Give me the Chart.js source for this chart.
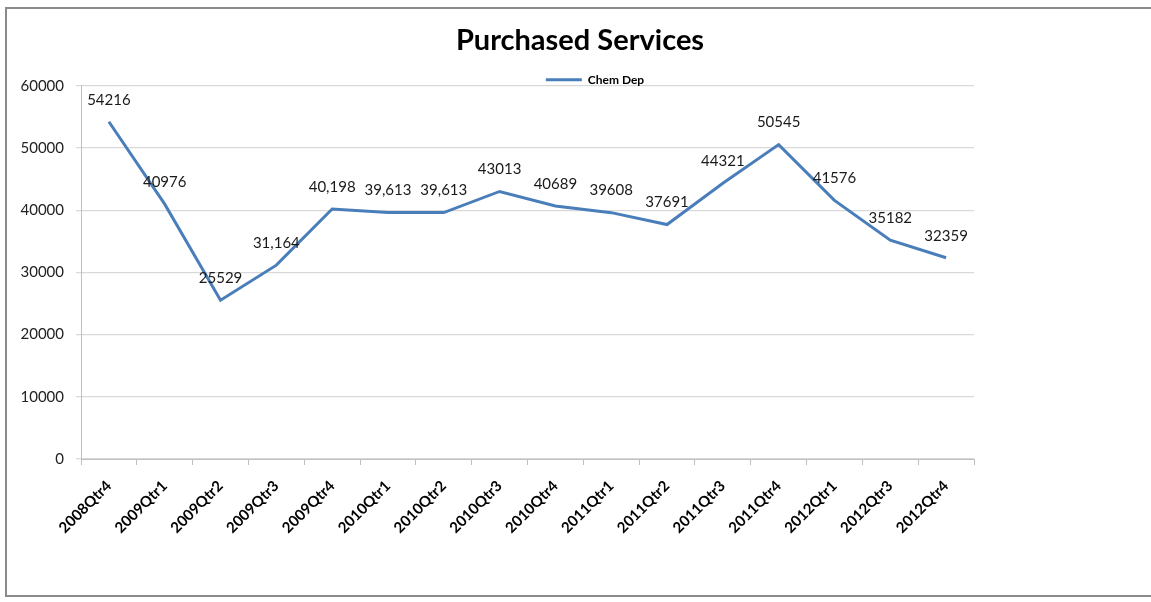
<!DOCTYPE html>
<html>
<head>
<meta charset="utf-8">
<script src="https://cdn.jsdelivr.net/npm/chart.js@4"></script>
<style>
  html, body { margin: 0; padding: 0; background: #fff; overflow: hidden; }
  #frame { position: absolute; left: 5px; top: 7px; width: 1170px; height: 586px; border: 2px solid #8a8a8a; border-right: none; }
  #wrap { position: absolute; left: 0; top: 0; width: 1151px; height: 602px; }
</style>
</head>
<body>
<div id="frame"></div>
<div id="wrap"><canvas id="c" width="1151" height="602"></canvas></div>
<script>
const categories = ["2008Qtr4","2009Qtr1","2009Qtr2","2009Qtr3","2009Qtr4","2010Qtr1","2010Qtr2","2010Qtr3","2010Qtr4","2011Qtr1","2011Qtr2","2011Qtr3","2011Qtr4","2012Qtr1","2012Qtr3","2012Qtr4"];
const chemDep = [54216, 40976, 25529, 31164, 40198, 39613, 39613, 43013, 40689, 39608, 37691, 44321, 50545, 41576, 35182, 32359];
const valueLabels = ["54216","40976","25529","31,164","40,198","39,613","39,613","43013","40689","39608","37691","44321","50545","41576","35182","32359"];
const yTicks = [0, 10000, 20000, 30000, 40000, 50000, 60000];

const LINE = '#4a7ebb';

const dataLabelPlugin = {
  id: 'dataLabels',
  afterDatasetsDraw(chart) {
    const ctx = chart.ctx;
    const meta = chart.getDatasetMeta(0);
    ctx.save();
    ctx.font = '15px Lato';
    ctx.fillStyle = '#1a1a1a';
    ctx.textAlign = 'center';
    ctx.textBaseline = 'middle';
    meta.data.forEach((pt, i) => {
      ctx.fillText(valueLabels[i], pt.x, pt.y - 22);
    });
    ctx.restore();
  }
};

// move title and legend to where they sit in the reference (centred on the whole frame)
const headerShift = {
  id: 'headerShift',
  afterLayout(chart) {
    if (chart.titleBlock) {
      chart.titleBlock.left += 93;
      chart.titleBlock.right += 93;
    }
    if (chart.legend) {
      chart.legend.left += 108;
      chart.legend.right += 108;
      chart.legend.top += 10;
      chart.legend.bottom += 10;
    }
  }
};

new Chart(document.getElementById('c'), {
  type: 'line',
  data: {
    labels: categories,
    datasets: [{
      label: 'Chem Dep',
      data: chemDep,
      borderColor: LINE,
      backgroundColor: LINE,
      borderWidth: 3,
      pointRadius: 0,
      pointHoverRadius: 0,
      tension: 0,
      fill: false
    }]
  },
  options: {
    responsive: false,
    animation: false,
    events: [],
    layout: { padding: { left: 0, right: 177, top: 0, bottom: 0 } },
    plugins: {
      title: {
        display: true,
        text: 'Purchased Services',
        color: '#000',
        font: { family: 'Lato', size: 29, weight: 'bold' },
        padding: { top: 23, bottom: 4 }
      },
      legend: {
        display: true,
        position: 'top',
        labels: {
          usePointStyle: true,
          pointStyle: 'line',
          pointStyleWidth: 36,
          boxHeight: 3,
          color: '#000',
          font: { family: 'Lato', size: 12, weight: 'bold' },
          padding: 2
        }
      },
      tooltip: { enabled: false }
    },
    scales: {
      x: {
        offset: true,
        grid: { offset: true, drawOnChartArea: false, drawTicks: true, tickLength: 6, color: '#bfbfbf' },
        border: { display: true, color: '#bfbfbf', width: 1 },
        ticks: {
          color: '#000',
          font: { family: 'Lato', size: 15, weight: 'bold' },
          minRotation: 45, maxRotation: 45,
          padding: 12,
          autoSkip: false
        },
        afterFit(scale) { scale.height = 143; }
      },
      y: {
        min: 0, max: 60000,
        afterBuildTicks(scale) { scale.ticks = yTicks.map(v => ({ value: v })); },
        grid: { color: '#d9d9d9', tickLength: 5, lineWidth: 1.3 },
        border: { display: true, color: '#bfbfbf', width: 1 },
        ticks: {
          color: '#222',
          font: { family: 'Lato', size: 15 },
          padding: 12,
          callback: v => String(v)
        },
        afterFit(scale) { scale.width = 81; }
      }
    }
  },
  plugins: [dataLabelPlugin, headerShift]
});
</script>
</body>
</html>
